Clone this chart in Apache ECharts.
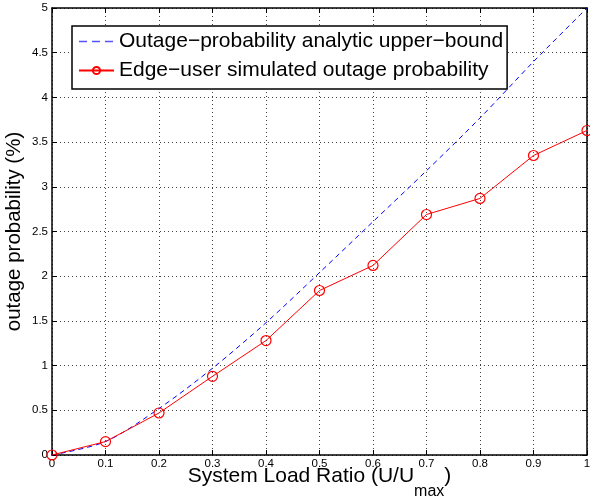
<!DOCTYPE html>
<html><head><meta charset="utf-8">
<script src="https://cdn.jsdelivr.net/npm/echarts@6/dist/echarts.min.js"></script>
<style>html,body{margin:0;padding:0;background:#fff}#c{width:590px;height:497px}</style>
</head><body><div id="c"></div>
<script>
const loadRatio = [0, 0.1, 0.2, 0.3, 0.4, 0.5, 0.6, 0.7, 0.8, 0.9, 1.0];
const upperBound = [0, 0.15, 0.52, 0.97, 1.48, 2.04, 2.61, 3.18, 3.77, 4.40, 5.0];
const simulated = [0, 0.15, 0.47, 0.88, 1.28, 1.84, 2.12, 2.69, 2.87, 3.35, 3.63];
const seriesNames = ['Outage\u2212probability analytic upper\u2212bound', 'Edge\u2212user simulated outage probability'];

const font = '"Liberation Sans", Arial, Helvetica, sans-serif';
const chart = echarts.init(document.getElementById('c'), null, {renderer: 'canvas'});
const gridLine = {show: true, lineStyle: {type: [1, 3], color: '#444', width: 1}};
const baseAxis = {
  axisLine: {show: true, onZero: false, lineStyle: {color: '#000', width: 1.5}},
  axisTick: {show: true, inside: true, length: 5, lineStyle: {color: '#000', width: 1}},
  axisLabel: {color: '#000', fontSize: 11.5, fontFamily: font}
};
chart.setOption({
  animation: false,
  backgroundColor: '#fff',
  grid: {left: 52, right: 3, top: 8, bottom: 42, containLabel: false, outerBoundsMode: 'none'},
  legend: {
    orient: 'vertical', left: 72, top: 26,
    itemWidth: 35, itemHeight: 9, itemGap: 8,
    padding: [5, 4, 8, 6],
    borderColor: '#000', borderWidth: 1.5, backgroundColor: '#fff',
    textStyle: {fontSize: 21, fontFamily: font, color: '#000'},
    data: [
      {name: seriesNames[0], itemStyle: {opacity: 0}, lineStyle: {type: [8, 5], color: '#5555ff', width: 1.5}},
      {name: seriesNames[1]}
    ]
  },
  xAxis: [
    Object.assign({}, baseAxis, {
      type: 'value', min: 0, max: 1, interval: 0.1, position: 'bottom',
      splitLine: gridLine,
      axisLabel: {color: '#000', fontSize: 11.5, fontFamily: font, margin: 3},
      name: '{a|System Load Ratio (U/U}{s|max}{a|)}',
      nameLocation: 'middle', nameGap: 11, nameMoveOverlap: false,
      nameTextStyle: {verticalAlign: 'top', rich: {
        a: {fontSize: 21, lineHeight: 21, fontFamily: font, color: '#000', verticalAlign: 'top'},
        s: {fontSize: 16, lineHeight: 16, fontFamily: font, color: '#000', verticalAlign: 'top', padding: [18, 0, 0, 0]}
      }}
    }),
    Object.assign({}, baseAxis, {
      type: 'value', min: 0, max: 1, interval: 0.1, position: 'top',
      splitLine: {show: false}, axisLabel: {show: false}
    })
  ],
  yAxis: [
    Object.assign({}, baseAxis, {
      type: 'value', min: 0, max: 5, interval: 0.5, position: 'left',
      splitLine: gridLine,
      axisLabel: {color: '#000', fontSize: 11.5, fontFamily: font, margin: 4},
      name: 'outage probability (%)', nameLocation: 'middle', nameGap: 27, nameMoveOverlap: false,
      nameTextStyle: {fontSize: 20.5, fontFamily: font, color: '#000'}
    }),
    Object.assign({}, baseAxis, {
      type: 'value', min: 0, max: 5, interval: 0.5, position: 'right',
      splitLine: {show: false}, axisLabel: {show: false}
    })
  ],
  series: [
    {
      name: seriesNames[0], type: 'line', xAxisIndex: 0, yAxisIndex: 0,
      data: loadRatio.map((x, i) => [x, upperBound[i]]),
      smooth: 0.3, showSymbol: false, symbol: 'none',
      lineStyle: {color: '#0000ff', width: 1, type: [5, 4]},
      itemStyle: {color: '#0000ff'}
    },
    {
      name: seriesNames[1], type: 'line', xAxisIndex: 0, yAxisIndex: 0,
      data: loadRatio.map((x, i) => [x, simulated[i]]),
      symbol: 'circle', symbolSize: 10, showSymbol: true,
      lineStyle: {color: '#ff0000', width: 1},
      itemStyle: {color: 'rgba(0,0,0,0)', borderColor: '#ff0000', borderWidth: 1.2}
    }
  ]
});
</script></body></html>
